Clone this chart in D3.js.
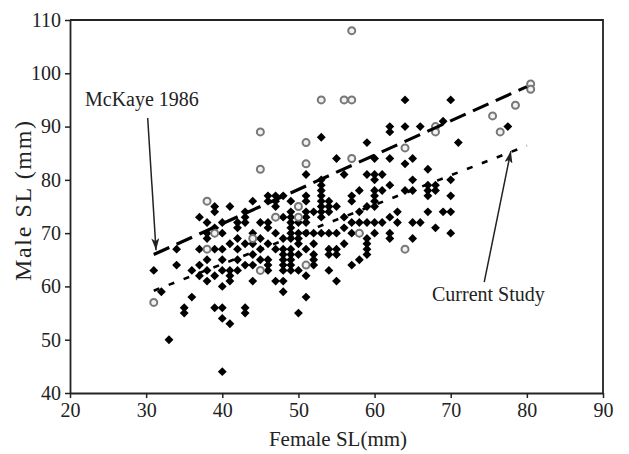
<!DOCTYPE html>
<html>
<head>
<meta charset="utf-8">
<script src="https://cdn.jsdelivr.net/npm/d3@7"></script>
<style>
  html, body { margin: 0; padding: 0; background: #fff; }
  svg { display: block; }
  text { font-family: "Liberation Serif", "Times New Roman", serif; fill: #222; }
</style>
</head>
<body>
<svg id="chart" width="629" height="454"></svg>
<script>
// ---- data ----
const xTicks = [20, 30, 40, 50, 60, 70, 80, 90];
const yTicks = [40, 50, 60, 70, 80, 90, 100, 110];

// Current study: [female SL, [male SL values]]
const currentStudy = [
  [31, [63]], [32, [59]], [33, [50]], [34, [64, 67]], [35, [56, 55]],
  [36, [58, 63]], [37, [73, 67, 64, 62]], [38, [72, 70, 69, 65, 63, 61]],
  [39, [75, 74, 71, 70, 67, 62, 56]], [40, [72, 70, 67, 65, 63, 60, 56, 54, 44]],
  [41, [75, 68, 63, 62, 61, 53]], [42, [72, 71, 69, 67, 65, 63]],
  [43, [74, 73, 72, 68, 64, 56, 55]], [44, [76, 70, 68, 66, 64, 61]],
  [45, [72, 69, 67, 65]], [46, [77, 76, 72, 71, 68, 65, 64, 63]],
  [47, [77, 76, 75, 73, 70, 67, 61]], [48, [77, 73, 69, 67, 66, 65, 64, 63, 61, 59]],
  [49, [76, 74, 73, 72, 71, 70, 69, 67, 66, 65, 64, 63]],
  [50, [72, 70, 69, 68, 66, 63, 55]], [51, [81, 77, 76, 74, 73, 72, 70, 67, 62, 58]],
  [52, [74, 70, 68, 66, 65, 64]], [53, [88, 80, 79, 78, 77, 76, 75, 74, 73, 70]],
  [54, [76, 75, 74, 70, 67, 66, 63]], [55, [84, 75, 70, 67, 66, 61]],
  [56, [81, 73, 71, 68]], [57, [77, 76, 72, 70, 64]], [58, [78, 74, 72, 70, 65]],
  [59, [87, 81, 75, 72, 69, 68, 67, 66]], [60, [84, 81, 80, 78, 77, 76, 75, 72, 70]],
  [61, [81, 78, 72]], [62, [90, 89, 84, 79, 73, 70, 69]], [63, [74, 72]],
  [64, [95, 90, 83, 78]], [65, [84, 80, 78, 72, 69]], [66, [90, 72]],
  [67, [82, 79, 78, 77, 74]], [68, [79, 78, 71]], [69, [91, 74]],
  [70, [95, 80, 77, 74, 70]], [71, [87]], [77.5, [90]]
];

// McKaye 1986: [female SL, male SL]
const mckaye1986 = [
  [31, 57], [38, 76], [38, 67], [39, 70], [44, 69], [45, 89], [45, 82], [45, 63],
  [47, 73], [50, 75], [50, 73], [51, 87], [51, 83], [51, 64], [53, 95], [56, 95],
  [57, 95], [57, 108], [57, 84], [58, 70], [64, 86], [64, 67], [68, 90], [68, 89],
  [75.5, 92], [76.5, 89], [78.5, 94], [80.5, 98], [80.5, 97]
];

// regression lines [x, y] endpoints
const mckayeLine = [[31, 66], [80, 97.5]];
const currentLine = [[31, 59.2], [80, 86.4]];

// annotations
const annotations = [
  { label: "McKaye 1986", tx: 85, ty: 106, from: [30.2, 91.6], to: [31.3, 66.8] },
  { label: "Current Study", tx: 432, ty: 301, from: [74.4, 60.8], to: [77.9, 85.4] }
];

// ---- chart ----
const svg = d3.select("#chart");
const x = d3.scaleLinear().domain([20, 90]).range([70, 603]);
const y = d3.scaleLinear().domain([40, 110]).range([393, 20]);

const axisColor = "#222";

// frame (top & right)
svg.append("path")
  .attr("d", `M${x(20)},${y(110)}H${x(90)}V${y(40)}`)
  .attr("fill", "none").attr("stroke", axisColor).attr("stroke-width", 1.8);

const xAxis = svg.append("g").attr("transform", `translate(0,${y(40)})`)
  .call(d3.axisBottom(x).tickValues(xTicks).tickSize(5).tickSizeOuter(0).tickPadding(5));
const yAxis = svg.append("g").attr("transform", `translate(${x(20)},0)`)
  .call(d3.axisLeft(y).tickValues(yTicks).tickSize(5).tickSizeOuter(0).tickPadding(4));
[xAxis, yAxis].forEach(g => {
  g.select(".domain").attr("stroke", axisColor).attr("stroke-width", 1.8);
  g.selectAll(".tick line").attr("stroke", axisColor).attr("stroke-width", 1.5);
  g.selectAll("text").attr("font-family", "Liberation Serif").attr("font-size", 20).attr("fill", "#222");
});

svg.append("text").attr("x", 338).attr("y", 446).attr("text-anchor", "middle")
  .attr("font-size", 21).text("Female SL(mm)");
svg.append("text").attr("transform", `translate(31,201) rotate(-90)`)
  .attr("text-anchor", "middle").attr("font-size", 24)
  .attr("textLength", 160).attr("lengthAdjust", "spacing")
  .text("Male SL (mm)");

// points: current study (diamonds)
const flat = currentStudy.flatMap(([fx, ys]) => ys.map(v => [fx, v]));
const diamond = d3.symbol().type(d3.symbolDiamond2).size(50);
svg.append("g").selectAll("path").data(flat).join("path")
  .attr("d", diamond)
  .attr("transform", d => `translate(${x(d[0])},${y(d[1])})`)
  .attr("fill", "#000");

// McKaye circles
svg.append("g").selectAll("circle").data(mckaye1986).join("circle")
  .attr("cx", d => x(d[0])).attr("cy", d => y(d[1])).attr("r", 3.5)
  .attr("fill", "#f2f2f2").attr("stroke", "#777").attr("stroke-width", 2);

// regression lines
const line = d3.line().x(d => x(d[0])).y(d => y(d[1]));
svg.append("path").datum(mckayeLine).attr("d", line)
  .attr("fill", "none").attr("stroke", "#000").attr("stroke-width", 3.2)
  .attr("stroke-dasharray", "17,8");
svg.append("path").datum(currentLine).attr("d", line)
  .attr("fill", "none").attr("stroke", "#000").attr("stroke-width", 2.6)
  .attr("stroke-dasharray", "6,10");

// arrows
svg.append("defs").append("marker")
  .attr("id", "arrow").attr("viewBox", "0 0 12 8").attr("refX", 12).attr("refY", 4)
  .attr("markerWidth", 12).attr("markerHeight", 8).attr("markerUnits", "userSpaceOnUse")
  .attr("orient", "auto")
  .append("path").attr("d", "M0,0L12,4L0,8L3,4Z").attr("fill", "#222");

annotations.forEach(a => {
  svg.append("line")
    .attr("x1", x(a.from[0])).attr("y1", y(a.from[1]))
    .attr("x2", x(a.to[0])).attr("y2", y(a.to[1]))
    .attr("stroke", "#222").attr("stroke-width", 1.5)
    .attr("marker-end", "url(#arrow)");
  svg.append("text").attr("x", a.tx).attr("y", a.ty).attr("font-size", 20).text(a.label);
});
</script>
</body>
</html>
